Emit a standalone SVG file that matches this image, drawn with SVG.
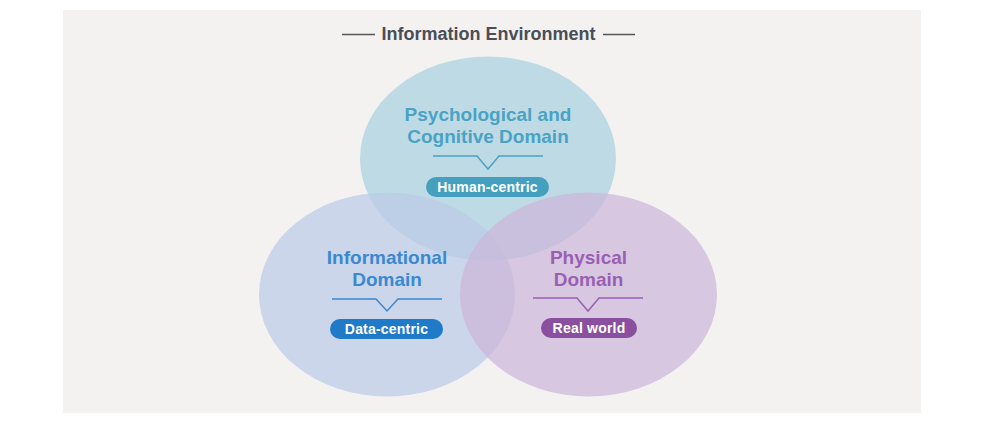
<svg xmlns="http://www.w3.org/2000/svg" width="990" height="424" viewBox="0 0 990 424">
<style>
  .t{font-family:"Liberation Sans",Arial,sans-serif;font-weight:bold;text-anchor:middle}
  .title{font-size:19px}
  .pill{font-family:"Liberation Sans",Arial,sans-serif;font-size:14px;font-weight:bold;fill:#ffffff;text-anchor:middle;letter-spacing:0.2px}
  .div{fill:none;stroke-width:1.5}
  .ell{opacity:0.72}
</style>
<rect x="63" y="10" width="858" height="403" fill="#f3f2f1"/>
<g id="header">
  <line x1="342" y1="34.5" x2="375" y2="34.5" stroke="#555" stroke-width="1.5"/>
  <line x1="603" y1="34.5" x2="635" y2="34.5" stroke="#555" stroke-width="1.5"/>
  <text x="488.5" y="40" class="t" style="font-size:18px" fill="#4a4e57">Information Environment</text>
</g>
<g id="ellipses">
  <ellipse class="ell" cx="488" cy="158.5" rx="128" ry="102" fill="#a9d1e1"/>
  <ellipse class="ell" cx="387" cy="294.5" rx="128" ry="102" fill="#bbcae7"/>
  <ellipse class="ell" cx="588.5" cy="294.5" rx="128.5" ry="102" fill="#ccb6d9"/>
</g>
<g id="psychological">
  <text x="488" y="121" class="t title" fill="#4aa2c4">Psychological and</text>
  <text x="488" y="143" class="t title" fill="#4aa2c4">Cognitive Domain</text>
  <polyline class="div" stroke="#4aa2c4" points="433,156 477,156 488,169 499,156 543,156"/>
  <rect x="426" y="177" width="123" height="20" rx="10" fill="#45a0bf"/>
  <text x="487.5" y="192" class="pill">Human-centric</text>
</g>
<g id="informational">
  <text x="387" y="264" class="t title" fill="#3a89d0">Informational</text>
  <text x="387" y="286" class="t title" fill="#3a89d0">Domain</text>
  <polyline class="div" stroke="#3a89d0" points="332,299 376,299 387,311 398,299 442,299"/>
  <rect x="330" y="319" width="113" height="20" rx="10" fill="#1f7bc8"/>
  <text x="386.5" y="334" class="pill">Data-centric</text>
</g>
<g id="physical">
  <text x="588.5" y="264" class="t title" fill="#9a5fb3">Physical</text>
  <text x="588.5" y="286" class="t title" fill="#9a5fb3">Domain</text>
  <polyline class="div" stroke="#9a5fb3" points="533,298 577,298 588,311 599,298 643,298"/>
  <rect x="541" y="318" width="96" height="20" rx="10" fill="#8a509f"/>
  <text x="589" y="333" class="pill">Real world</text>
</g>
</svg>
